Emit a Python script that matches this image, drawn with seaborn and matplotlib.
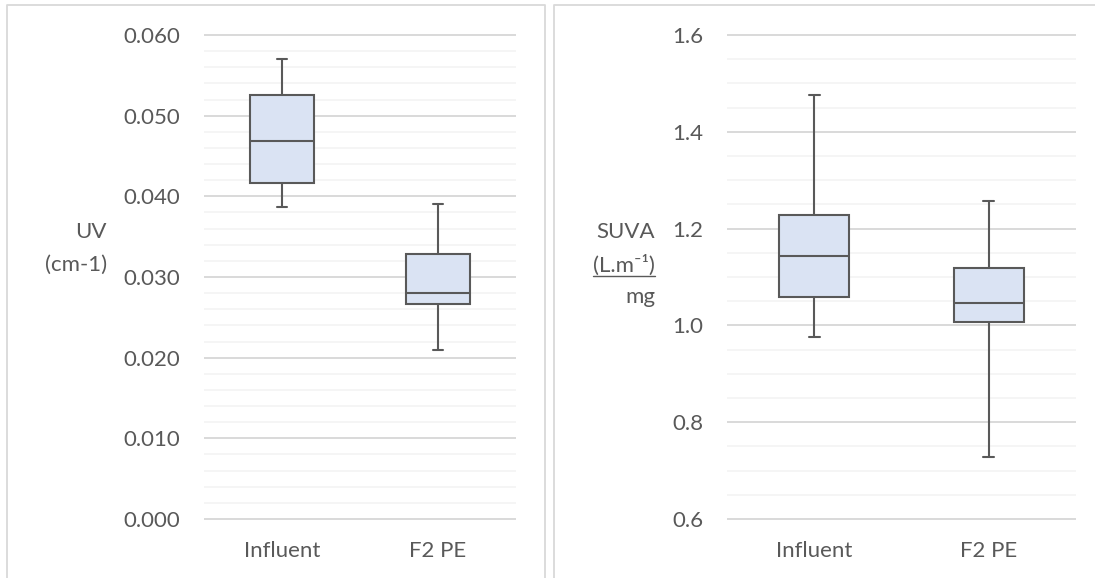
import matplotlib
matplotlib.use("Agg")
import matplotlib.pyplot as plt
import matplotlib.ticker as mticker
from matplotlib.lines import Line2D
import seaborn as sns
import pandas as pd

# ---- data (five-number summaries: min, Q1, median, Q3, max)
categories = ["Influent", "F2 PE"]
uv_influent = [0.0387, 0.0416, 0.0468, 0.0526, 0.0570]
uv_f2pe = [0.0210, 0.0267, 0.0280, 0.0329, 0.0390]
suva_influent = [0.977, 1.058, 1.143, 1.228, 1.475]
suva_f2pe = [0.728, 1.008, 1.047, 1.118, 1.257]
uv_ticks = [0.000, 0.010, 0.020, 0.030, 0.040, 0.050, 0.060]
suva_ticks = [0.6, 0.8, 1.0, 1.2, 1.4, 1.6]

sns.set_theme(style="white")
FAM = ["Lato", "DejaVu Sans"]
plt.rcParams["font.family"] = FAM

TXT = "#595959"
FILL = "#dae3f3"
EDGE = "#595959"
FS = 16

W, H = 1095, 578
fig = plt.figure(figsize=(W / 100, H / 100), dpi=100)

def px_axes(x0, x1, ytop, ybot):
    return [x0 / W, 1 - ybot / H, (x1 - x0) / W, (ybot - ytop) / H]

ax1 = fig.add_axes(px_axes(204, 516, 34, 520))
ax2 = fig.add_axes(px_axes(727, 1076, 34, 520))

df_uv = pd.DataFrame({
    "group": [categories[0]] * len(uv_influent) + [categories[1]] * len(uv_f2pe),
    "value": uv_influent + uv_f2pe,
})
df_suva = pd.DataFrame({
    "group": [categories[0]] * len(suva_influent) + [categories[1]] * len(suva_f2pe),
    "value": suva_influent + suva_f2pe,
})

def draw(ax, df, ticks, minor, fmt, width, capw):
    sns.boxplot(data=df, x="group", y="value", order=categories, ax=ax,
                color=FILL, linecolor=EDGE, linewidth=1.5, saturation=1,
                whis=(0, 100), width=width, showfliers=False,
                capwidths=capw)
    ax.set_xlim(-0.5, 1.5)
    span = ticks[-1] - ticks[0]
    ax.set_ylim(ticks[0] - span * 0.002, ticks[-1] + span * 0.002)
    ax.yaxis.set_major_locator(mticker.FixedLocator(ticks))
    ax.yaxis.set_minor_locator(mticker.MultipleLocator(minor))
    ax.yaxis.set_major_formatter(mticker.FormatStrFormatter(fmt))
    ax.grid(True, which="major", axis="y", color="#d9d9d9", linewidth=1.4)
    ax.grid(True, which="minor", axis="y", color="#f2f2f2", linewidth=1.1)
    ax.set_axisbelow(True)
    for s in ax.spines.values():
        s.set_visible(False)
    ax.tick_params(axis="both", which="both", length=0, labelsize=FS,
                   labelcolor=TXT)
    ax.tick_params(axis="y", pad=17)
    ax.tick_params(axis="x", pad=15)
    ax.set_xlabel("")
    ax.set_ylabel("")

draw(ax1, df_uv, uv_ticks, 0.002, "%.3f", 0.41, 0.07)
draw(ax2, df_suva, suva_ticks, 0.05, "%.1f", 0.40, 0.065)

# y-axis titles (horizontal, right-aligned)
fig.text(107 / W, 1 - 232 / H, "UV", ha="right", va="center", fontsize=FS, color=TXT)
fig.text(107 / W, 1 - 265 / H, "(cm-1)", ha="right", va="center", fontsize=FS, color=TXT)
fig.text(655 / W, 1 - 232 / H, "SUVA", ha="right", va="center", fontsize=FS, color=TXT)
t_unit = fig.text(655 / W, 1 - 265 / H, "(L.m\u207b\u00b9)", ha="right", va="center",
                  fontsize=FS, color=TXT)
fig.text(655 / W, 1 - 297 / H, "mg", ha="right", va="center", fontsize=FS, color=TXT)

fig.canvas.draw()
bb = t_unit.get_window_extent()
yline = 1 - 276 / H
fig.add_artist(Line2D([bb.x0 / W, bb.x1 / W], [yline, yline], color=TXT,
                      linewidth=1.0, transform=fig.transFigure))

# panel borders
border = "#d9d9d9"
top = 1 - 5 / H
for xs, ys in [
    ([7 / W, 7 / W, 545 / W, 545 / W], [0, top, top, 0]),
    ([1.01, 554 / W, 554 / W], [top, top, 0]),
]:
    fig.add_artist(Line2D(xs, ys, color=border, linewidth=1.3,
                          transform=fig.transFigure, clip_on=False))

fig.savefig("out.png", dpi=100)
